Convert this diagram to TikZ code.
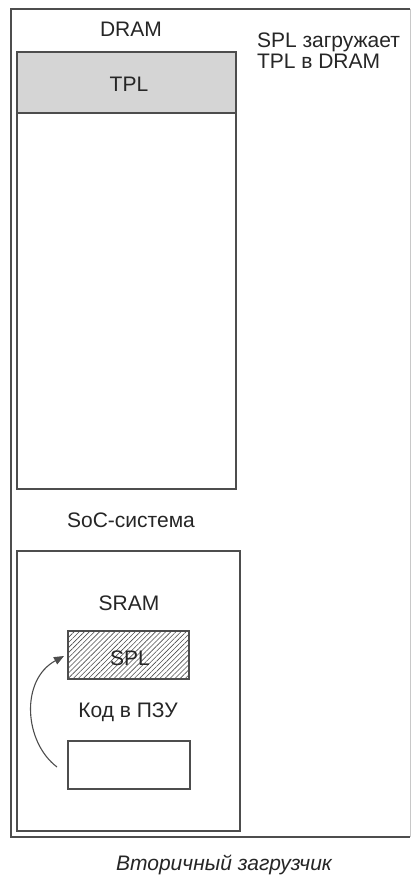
\documentclass[tikz,border=0pt]{standalone}
\usepackage{fontspec}
\setmainfont{Liberation Sans}
\usetikzlibrary{arrows.meta,patterns.meta,calc}
\definecolor{ink}{HTML}{262626}
\definecolor{edge}{HTML}{4D4D4D}
\definecolor{pale}{HTML}{C8C8C8}
\definecolor{tplfill}{HTML}{D5D5D5}
\begin{document}
\begin{tikzpicture}[x=1pt,y=-1pt,
  every node/.style={inner sep=0pt,outer sep=0pt},
  box/.style={draw=edge,line width=1.4pt,anchor=north west},
  lbl/.style={text=ink,font=\fontsize{21}{21}\selectfont,anchor=base},
  hatch/.style={pattern={Lines[angle=45,distance=3.6pt,line width=0.6pt]},pattern color=edge},
  arr/.style={draw=edge,line width=1.1pt,-{Triangle[length=10pt,width=8pt]}}]
\useasboundingbox (0,0) rectangle (411,879);
\fill[white] (0,0) rectangle (411,879);

% outer frame: three dark sides, faint right side
\node[anchor=north west,minimum width=399pt,minimum height=828pt] (frame) at (11,9) {};
\draw[edge,line width=1.4pt] (frame.north east) -- (frame.north west) -- (frame.south west) -- (frame.south east);
\draw[pale,line width=1pt] (frame.north east) -- (frame.south east);

% DRAM with TPL on top
\node[box,minimum width=219pt,minimum height=437pt] (dram) at (17,52) {};
\node[box,fill=tplfill,minimum width=219pt,minimum height=61pt] (tpl) at (17,52) {};
\node[lbl] (dramlbl) at (131,36) {DRAM};
\node[lbl] (tpllbl) at (129,91) {TPL};
\node[lbl,anchor=base west,align=left] (note) at (257,68) {SPL загружает\\TPL в DRAM};

% SoC with SRAM and ROM
\node[lbl] (soclbl) at (131,527) {SoC-система};
\node[box,minimum width=223pt,minimum height=280pt] (soc) at (17,551) {};
\node[lbl] (sramlbl) at (129,610) {SRAM};
\node[box,hatch,minimum width=121pt,minimum height=48pt] (spl) at (68,631) {};
\node[lbl] (spllbl) at (130,665) {SPL};
\node[lbl] (romlbl) at (128,717) {Код в ПЗУ};
\node[box,fill=white,minimum width=122pt,minimum height=48pt] (rom) at (68,741) {};

\draw[arr] ($(rom.west)+(-11,2)$) .. controls (24,742) and (20,680) .. ($(spl.west)+(-4,1)$);

\node[lbl,font=\fontsize{21}{21}\selectfont\itshape] (caption) at (224,870) {Вторичный загрузчик};
\end{tikzpicture}
\end{document}
